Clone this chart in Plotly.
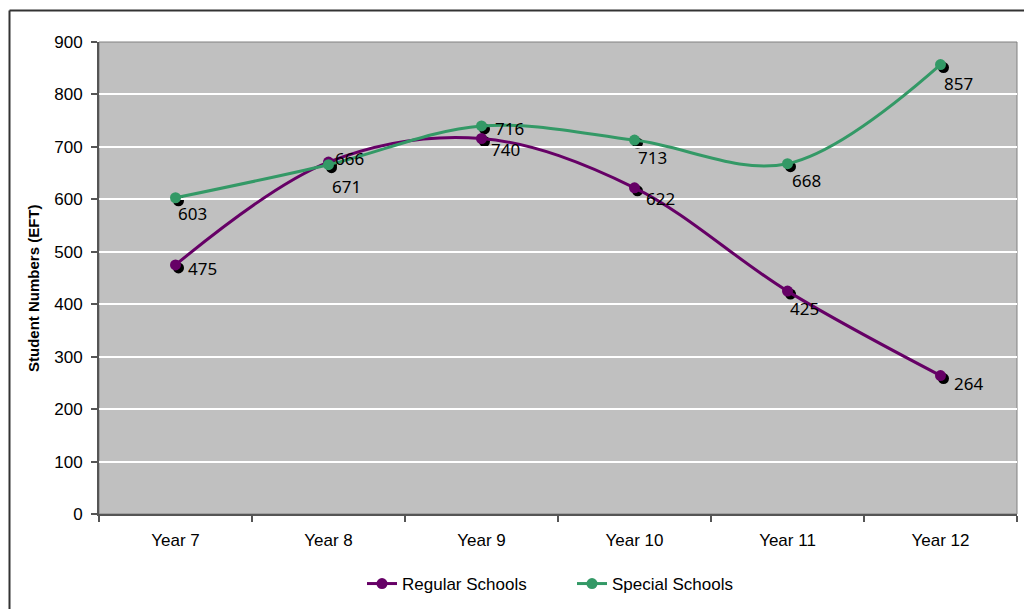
import plotly.graph_objects as go

W, H = 1024, 609

categories = ["Year 7", "Year 8", "Year 9", "Year 10", "Year 11", "Year 12"]
regular = [475, 671, 716, 622, 425, 264]
special = [603, 666, 740, 713, 668, 857]
regular_labels = ["475", "666", "740", "622", "425", "264"]
special_labels = ["603", "671", "716", "713", "668", "857"]
y_ticks = [0, 100, 200, 300, 400, 500, 600, 700, 800, 900]

# label pixel offsets (style only)
regular_shift = [(27, -4), (21, 4), (24, -11), (26, -11), (17, -17), (28, -8)]
special_shift = [(17, -16), (18, -22), (28, -3), (18, -17), (19, -17), (18, -19)]

PURPLE = "#660066"
GREEN = "#339966"

# plot area in pixels
L, R, T, B = 99, 1017, 42, 514
xd = [L / W, R / W]
yd = [(H - B) / H, (H - T) / H]
sh = 3
xd_s = [(L + sh) / W, (R + sh) / W]
yd_s = [(H - B - sh) / H, (H - T - sh) / H]

fig = go.Figure()

# shadow dots (subplot x/y, drawn underneath)
for vals in (regular, special):
    fig.add_trace(go.Scatter(x=categories, y=vals, mode="markers",
                             marker=dict(color="black", size=11),
                             showlegend=False, hoverinfo="skip", cliponaxis=False,
                             xaxis="x", yaxis="y"))

fig.add_trace(go.Scatter(x=categories, y=regular, name="Regular Schools",
                         mode="lines+markers",
                         line=dict(color=PURPLE, width=3, shape="spline", smoothing=1),
                         marker=dict(color=PURPLE, size=11), cliponaxis=False,
                         xaxis="x2", yaxis="y2"))
fig.add_trace(go.Scatter(x=categories, y=special, name="Special Schools",
                         mode="lines+markers",
                         line=dict(color=GREEN, width=3, shape="spline", smoothing=1),
                         marker=dict(color=GREEN, size=11), cliponaxis=False,
                         xaxis="x2", yaxis="y2"))

annotations = []
for vals, labs, shifts in ((regular, regular_labels, regular_shift),
                           (special, special_labels, special_shift)):
    for c, v, t, (dx, dy) in zip(categories, vals, labs, shifts):
        annotations.append(dict(x=c, y=v, xref="x2", yref="y2", text=t,
                                showarrow=False, xshift=dx, yshift=dy,
                                font=dict(family="Noto Sans", size=17, color="black")))

annotations.append(dict(text="<b>Student Numbers (EFT)</b>", x=33 / W, y=(H - 288) / H,
                        xref="paper", yref="paper", showarrow=False, textangle=-90,
                        xanchor="center", yanchor="middle",
                        font=dict(family="Liberation Sans", size=15, color="black")))

yrange = [0, 900]
xrange = [-0.5, 5.5]

fig.update_layout(
    width=W, height=H,
    margin=dict(l=0, r=0, t=0, b=0, autoexpand=False),
    paper_bgcolor="white",
    plot_bgcolor="rgba(0,0,0,0)",
    font=dict(family="Liberation Sans", size=17, color="black"),
    xaxis=dict(domain=xd_s, range=xrange, visible=False, type="category",
               categoryorder="array", categoryarray=categories),
    yaxis=dict(domain=yd_s, range=yrange, visible=False),
    xaxis2=dict(domain=xd, range=xrange, anchor="y2", type="category",
                categoryorder="array", categoryarray=categories,
                showline=True, linecolor="#555555", linewidth=2,
                ticks="outside", ticklen=6, tickcolor="#555555", tickwidth=1.5,
                tickson="boundaries", showgrid=False,
                tickfont=dict(size=17), ticklabelstandoff=10),
    yaxis2=dict(domain=yd, range=yrange, anchor="x2", tickvals=y_ticks,
                showline=True, linecolor="#555555", linewidth=2,
                ticks="outside", ticklen=6, tickcolor="#555555", tickwidth=1.5,
                showgrid=True, gridcolor="white", gridwidth=1.5, zeroline=False,
                tickfont=dict(size=17), ticklabelstandoff=5),
    legend=dict(orientation="h", x=362 / W, xanchor="left", y=(H - 584) / H,
                yanchor="middle", font=dict(size=17), bgcolor="rgba(0,0,0,0)",
                entrywidth=165, entrywidthmode="pixels"),
    annotations=annotations,
    shapes=[
        dict(type="rect", xref="paper", yref="paper", x0=xd[0], x1=xd[1], y0=yd[0], y1=yd[1],
             fillcolor="#C0C0C0", line=dict(color="#808080", width=1), layer="below"),
        dict(type="line", xref="paper", yref="paper", x0=9.5 / W, x1=1, y0=(H - 10.5) / H,
             y1=(H - 10.5) / H, line=dict(color="#333333", width=2)),
        dict(type="line", xref="paper", yref="paper", x0=9.5 / W, x1=9.5 / W, y0=0,
             y1=(H - 10.5) / H, line=dict(color="#333333", width=2)),
    ],
    showlegend=True,
)

fig.write_html("out.html")
